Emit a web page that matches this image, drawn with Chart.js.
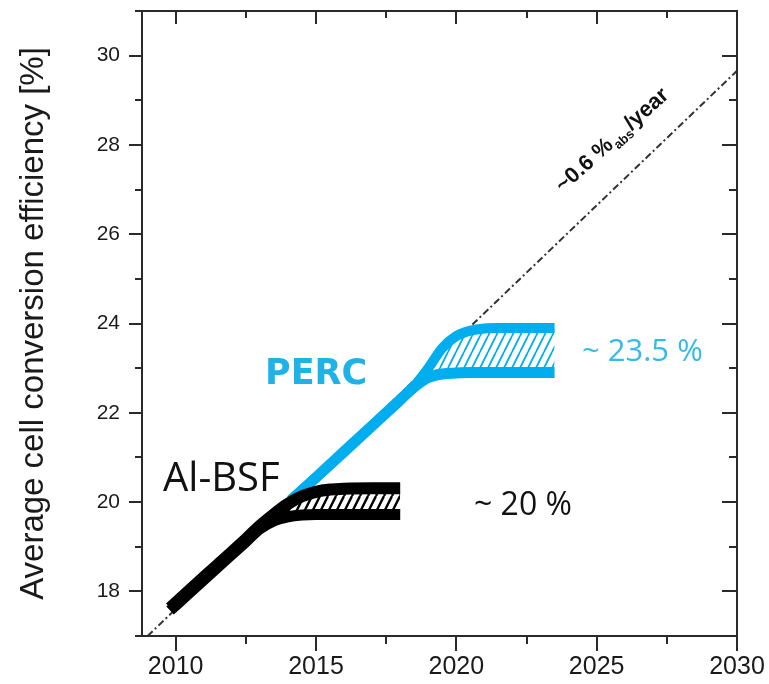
<!DOCTYPE html>
<html><head><meta charset="utf-8">
<script src="https://cdn.jsdelivr.net/npm/chart.js@4.4.1/dist/chart.umd.min.js"></script>
<style>html,body{margin:0;padding:0;background:#fff;overflow:hidden}#wrap{width:769px;height:684px}</style>
</head><body><div id="wrap"><canvas id="c" width="769" height="684"></canvas></div>
<script>
// ---- data ----
const alYears   = [2009.8, 2010.5, 2011.5, 2012.5, 2013.0, 2013.5, 2014.0, 2014.5, 2015.0, 2015.5, 2016.0, 2017.0, 2018.0];
const alUpper   = [17.63, 18.03, 18.6, 19.17, 19.47, 19.73, 19.96, 20.13, 20.23, 20.28, 20.3, 20.31, 20.31];
const alLower   = [17.57, 17.97, 18.54, 19.11, 19.4, 19.58, 19.67, 19.71, 19.72, 19.72, 19.72, 19.72, 19.72];
const percYears = [2014.1, 2015.0, 2016.0, 2017.0, 2018.0, 2018.5, 2019.0, 2019.5, 2020.0, 2020.5, 2021.0, 2021.5, 2022.0, 2023.5];
const percUpper = [20.04, 20.55, 21.13, 21.71, 22.29, 22.6, 23.0, 23.45, 23.72, 23.84, 23.89, 23.9, 23.9, 23.9];
const percLower = [20.04, 20.55, 21.13, 21.71, 22.29, 22.58, 22.79, 22.87, 22.89, 22.9, 22.9, 22.9, 22.9, 22.9];
const trendYears  = [2009.0, 2030.0];
const trendValues = [17.0, 29.66];
const xTickValues = [2010, 2015, 2020, 2025, 2030];
const xMinorTickValues = [2012.5, 2017.5, 2022.5, 2027.5];
const yTickValues = [18, 20, 22, 24, 26, 28, 30];
const yMinorTickValues = [17, 19, 21, 23, 25, 27, 29, 31];

const CYAN = '#00AEEF';
function toPts(xs, ys) { return xs.map((x, i) => ({x: x, y: ys[i]})); }
function hatch(color, bg, lw) {
  const w = 8, h = 16;
  const c = document.createElement('canvas'); c.width = w; c.height = h;
  const g = c.getContext('2d');
  g.fillStyle = bg; g.fillRect(0, 0, w, h);
  g.strokeStyle = color; g.lineWidth = lw;
  g.beginPath();
  for (const dx of [-w, 0, w]) { g.moveTo(dx, h); g.lineTo(dx + w, 0); }
  g.stroke();
  return g.createPattern(c, 'repeat');
}
const common = {pointRadius: 0, cubicInterpolationMode: 'monotone', borderCapStyle: 'butt', borderJoinStyle: 'round', fill: false};
function noPad(s) { s.paddingTop = 0; s.paddingBottom = 0; s.paddingLeft = 0; s.paddingRight = 0; }

const frame = {
  id: 'frame',
  afterDraw(chart) {
    const ctx = chart.ctx, a = chart.chartArea, xs = chart.scales.x, ys = chart.scales.y;
    const L = Math.round(a.left), R = Math.round(a.right), T = Math.round(a.top), B = Math.round(a.bottom);
    ctx.save();
    ctx.strokeStyle = '#2a2a2a'; ctx.lineWidth = 2; ctx.lineCap = 'butt';
    ctx.beginPath();
    ctx.moveTo(L, T); ctx.lineTo(R, T); ctx.lineTo(R, B); ctx.lineTo(L, B); ctx.closePath();
    for (const v of xTickValues) { const p = Math.round(xs.getPixelForValue(v));
      ctx.moveTo(p, B); ctx.lineTo(p, B + 15); ctx.moveTo(p, T); ctx.lineTo(p, T + 13); }
    for (const v of xMinorTickValues) { const p = Math.round(xs.getPixelForValue(v));
      ctx.moveTo(p, B); ctx.lineTo(p, B + 8); ctx.moveTo(p, T); ctx.lineTo(p, T + 7); }
    for (const v of yTickValues) { const p = Math.round(ys.getPixelForValue(v));
      ctx.moveTo(L, p); ctx.lineTo(L - 13, p); ctx.moveTo(R, p); ctx.lineTo(R - 15, p); }
    for (const v of yMinorTickValues) { const p = Math.round(ys.getPixelForValue(v));
      ctx.moveTo(L, p); ctx.lineTo(L - 7, p); ctx.moveTo(R, p); ctx.lineTo(R - 8, p); }
    ctx.stroke();

    // annotations
    ctx.textBaseline = 'alphabetic'; ctx.textAlign = 'left';
    ctx.fillStyle = '#111';
    ctx.font = '40px "Open Sans"';
    ctx.fillText('Al-BSF', 163, 491);
    ctx.font = '32px "Open Sans"';
    ctx.fillText('~ 20 %', 474, 515);
    ctx.fillStyle = '#1DB3E6';
    ctx.font = 'bold 35px "DejaVu Sans"';
    ctx.fillText('PERC', 265, 384);
    ctx.fillStyle = '#35BBE8';
    ctx.font = '31px "Open Sans"';
    ctx.fillText('~ 23.5 %', 582, 361);

    ctx.fillStyle = '#111';
    ctx.translate(563, 193);
    ctx.rotate(-42 * Math.PI / 180);
    ctx.font = 'bold 22px "Liberation Sans"';
    const t1 = '~0.6 %';
    ctx.fillText(t1, 0, 0);
    let w = ctx.measureText(t1).width + 1;
    ctx.font = 'bold 13px "Liberation Sans"';
    ctx.fillText('abs', w, 5);
    w += ctx.measureText('abs').width;
    ctx.font = 'bold 22px "Liberation Sans"';
    ctx.fillText('/year', w, 0);
    ctx.restore();
  }
};

new Chart(document.getElementById('c'), {
  type: 'line',
  data: {
    datasets: [
      Object.assign({data: toPts(alYears, alUpper), borderColor: '#000', borderWidth: 12}, common),
      Object.assign({data: toPts(alYears, alLower), borderColor: '#000', borderWidth: 11}, common),
      Object.assign({}, common, {data: toPts(alYears, alUpper), borderColor: 'rgba(0,0,0,0)', borderWidth: 1, fill: 1, backgroundColor: hatch('#000', '#fff', 2.4)}),
      Object.assign({data: toPts(percYears, percUpper), borderColor: CYAN, borderWidth: 10}, common),
      Object.assign({data: toPts(percYears, percLower), borderColor: CYAN, borderWidth: 11}, common),
      Object.assign({}, common, {data: toPts(percYears, percUpper), borderColor: 'rgba(0,0,0,0)', borderWidth: 1, fill: 4, backgroundColor: hatch(CYAN, '#fff', 1.8)}),
      Object.assign({}, common, {data: toPts(trendYears, trendValues), borderColor: '#333', borderWidth: 2, borderDash: [7, 3, 2, 3], cubicInterpolationMode: 'default', tension: 0})
    ]
  },
  options: {
    responsive: false, devicePixelRatio: 1, animation: false,
    layout: {padding: {top: 11, right: 32, bottom: 0, left: 0}},
    plugins: {legend: {display: false}, tooltip: {enabled: false}, title: {display: false}},
    scales: {
      x: {
        type: 'linear', min: 2008.8, max: 2030,
        grid: {display: false, drawTicks: false}, border: {display: false},
        ticks: {font: {family: '"Liberation Sans", Arial', size: 25}, color: '#1a1a1a', padding: 16, autoSkip: false, maxRotation: 0, includeBounds: false, callback: v => String(v)},
        afterBuildTicks: s => { s.ticks = xTickValues.map(v => ({value: v})); },
        afterFit: s => { s.height = 48; noPad(s); }
      },
      y: {
        type: 'linear', min: 17, max: 31,
        grid: {display: false, drawTicks: false}, border: {display: false},
        ticks: {font: {family: '"Liberation Sans", Arial', size: 21}, color: '#1a1a1a', padding: 22, includeBounds: false, callback: v => String(v)},
        afterBuildTicks: s => { s.ticks = yTickValues.map(v => ({value: v})); },
        afterFit: s => { s.width = 142; noPad(s); },
        title: {display: true, text: 'Average cell conversion efficiency [%]', font: {family: '"Liberation Sans", Arial', size: 33}, color: '#1a1a1a', padding: {top: 14, bottom: 0}}
      }
    }
  },
  plugins: [frame]
});
</script></body></html>
